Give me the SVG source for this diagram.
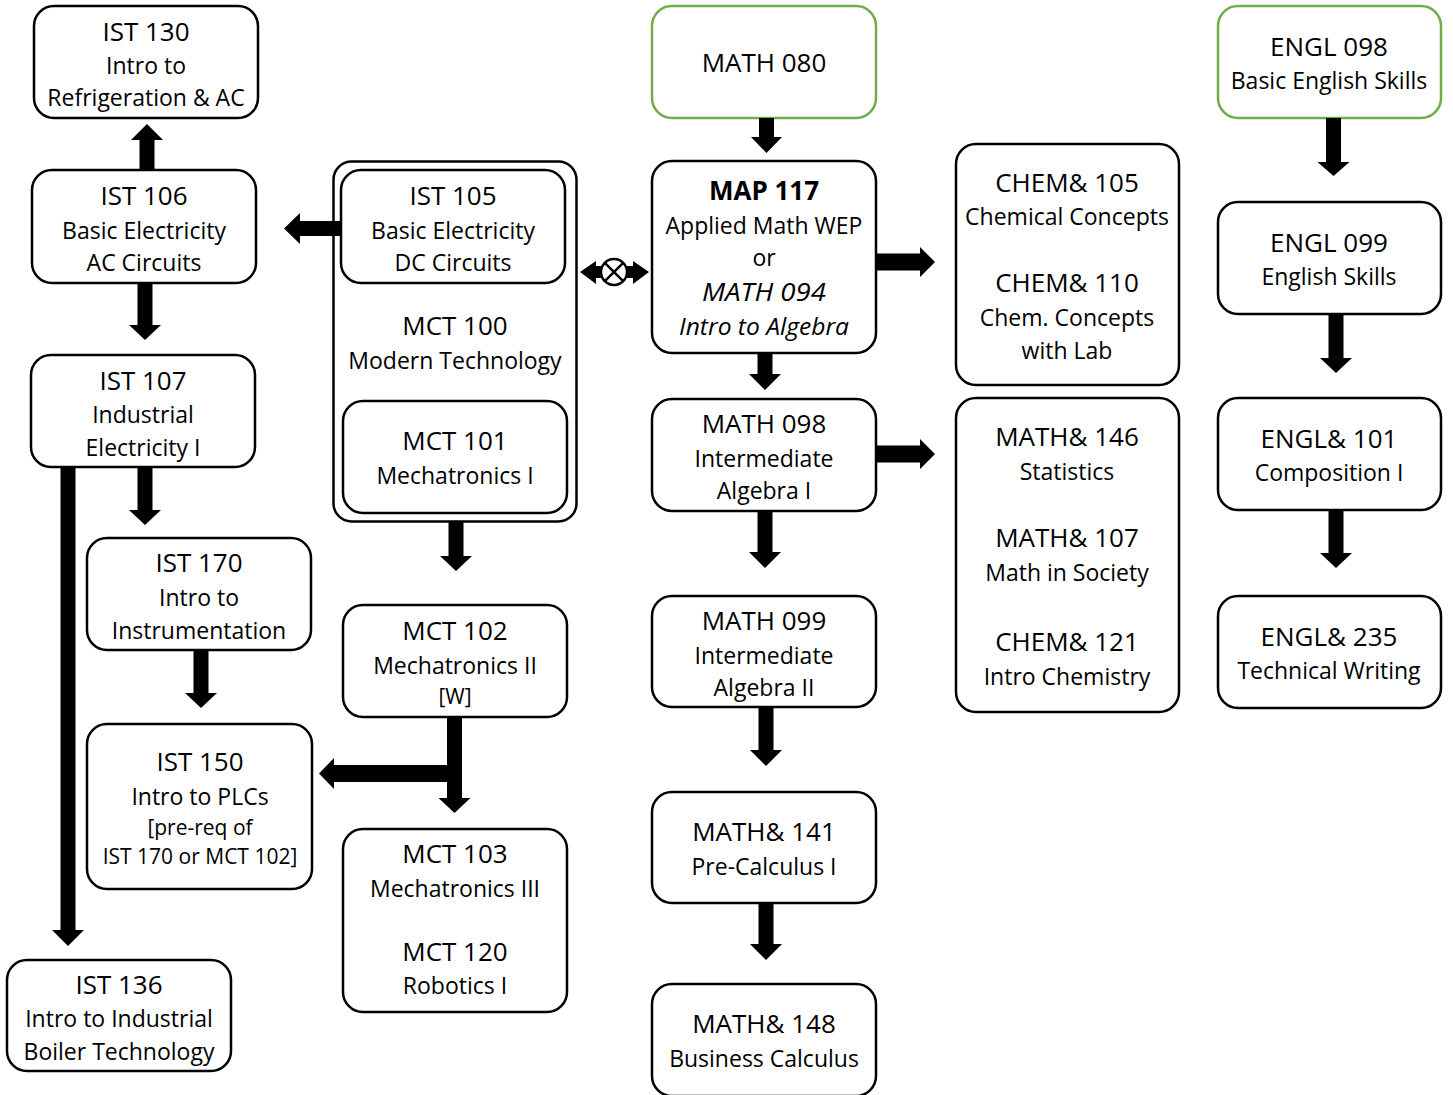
<svg xmlns="http://www.w3.org/2000/svg" width="1453" height="1095" viewBox="0 0 1453 1095">
<style>
.b{fill:#fff;stroke:#000;stroke-width:2.5}
.g{fill:#fff;stroke:#70AD47;stroke-width:2.5}
text{font-family:"Open Sans","Noto Sans",sans-serif;text-anchor:middle;dominant-baseline:central;fill:#000}
.t{font-size:26px}
.s{font-size:23px}
.x{font-size:21px}
.a{fill:#000}
</style>
<rect width="1453" height="1095" fill="#fff"/>
<g id="container"><rect class="b" x="333.5" y="161.5" width="243" height="360" rx="18"/>
<text class="t" x="455" y="325">MCT 100</text><text class="s" x="455" y="360">Modern Technology</text></g>
<g id="ist130"><rect class="b" x="34" y="6" width="224" height="112" rx="20"/>
<text class="t" x="146" y="31">IST 130</text><text class="s" x="146" y="65">Intro to</text><text class="s" x="146" y="97">Refrigeration &amp; AC</text></g>
<g id="ist106"><rect class="b" x="32" y="170" width="224" height="113" rx="20"/>
<text class="t" x="144" y="195">IST 106</text><text class="s" x="144" y="230">Basic Electricity</text><text class="s" x="144" y="262">AC Circuits</text></g>
<g id="ist107"><rect class="b" x="31" y="355" width="224" height="112" rx="20"/>
<text class="t" x="143" y="380">IST 107</text><text class="s" x="143" y="414">Industrial</text><text class="s" x="143" y="447">Electricity I</text></g>
<g id="ist170"><rect class="b" x="87" y="538" width="224" height="112" rx="20"/>
<text class="t" x="199" y="562">IST 170</text><text class="s" x="199" y="597">Intro to</text><text class="s" x="199" y="630">Instrumentation</text></g>
<g id="ist150"><rect class="b" x="87" y="724" width="225" height="165" rx="20"/>
<text class="t" x="200" y="761">IST 150</text><text class="s" x="200" y="796">Intro to PLCs</text><text class="x" x="200" y="827">[pre-req of</text><text class="x" x="200" y="856">IST 170 or MCT 102]</text></g>
<g id="ist136"><rect class="b" x="7" y="960" width="224" height="111" rx="20"/>
<text class="t" x="119" y="984">IST 136</text><text class="s" x="119" y="1018">Intro to Industrial</text><text class="s" x="119" y="1051">Boiler Technology</text></g>
<g id="ist105"><rect class="b" x="341" y="170" width="224" height="113" rx="20"/>
<text class="t" x="453" y="195">IST 105</text><text class="s" x="453" y="230">Basic Electricity</text><text class="s" x="453" y="262">DC Circuits</text></g>
<g id="mct101"><rect class="b" x="343" y="401" width="224" height="112" rx="20"/>
<text class="t" x="455" y="440">MCT 101</text><text class="s" x="455" y="475">Mechatronics I</text></g>
<g id="mct102"><rect class="b" x="343" y="605" width="224" height="112" rx="20"/>
<text class="t" x="455" y="630">MCT 102</text><text class="s" x="455" y="665">Mechatronics II</text><text class="x" x="455" y="696">[W]</text></g>
<g id="mct103"><rect class="b" x="343" y="829" width="224" height="183" rx="20"/>
<text class="t" x="455" y="853">MCT 103</text><text class="s" x="455" y="888">Mechatronics III</text><text class="t" x="455" y="951">MCT 120</text><text class="s" x="455" y="985">Robotics I</text></g>
<g id="math080"><rect class="g" x="652" y="6" width="224" height="112" rx="20"/>
<text class="t" x="764" y="62">MATH 080</text></g>
<g id="map117"><rect class="b" x="652" y="161" width="224" height="192" rx="20"/>
<text class="t" x="764" y="190" font-weight="bold">MAP 117</text><text class="s" x="764" y="225">Applied Math WEP</text><text class="s" x="764" y="257">or</text><text class="t" x="764" y="291" font-style="italic" textLength="124" lengthAdjust="spacingAndGlyphs">MATH 094</text><text class="s" x="764" y="326" font-style="italic" textLength="170" lengthAdjust="spacingAndGlyphs">Intro to Algebra</text></g>
<g id="math098"><rect class="b" x="652" y="399" width="224" height="112" rx="20"/>
<text class="t" x="764" y="423">MATH 098</text><text class="s" x="764" y="458">Intermediate</text><text class="s" x="764" y="490">Algebra I</text></g>
<g id="math099"><rect class="b" x="652" y="596" width="224" height="111" rx="20"/>
<text class="t" x="764" y="620">MATH 099</text><text class="s" x="764" y="655">Intermediate</text><text class="s" x="764" y="687">Algebra II</text></g>
<g id="math141"><rect class="b" x="652" y="792" width="224" height="111" rx="20"/>
<text class="t" x="764" y="831">MATH&amp; 141</text><text class="s" x="764" y="866">Pre-Calculus I</text></g>
<g id="math148"><rect class="b" x="652" y="984" width="224" height="112" rx="20"/>
<text class="t" x="764" y="1023">MATH&amp; 148</text><text class="s" x="764" y="1058">Business Calculus</text></g>
<g id="chem"><rect class="b" x="956" y="144" width="223" height="241" rx="20"/>
<text class="t" x="1067" y="182">CHEM&amp; 105</text><text class="s" x="1067" y="216">Chemical Concepts</text><text class="t" x="1067" y="282">CHEM&amp; 110</text><text class="s" x="1067" y="317">Chem. Concepts</text><text class="s" x="1067" y="350">with Lab</text></g>
<g id="math146"><rect class="b" x="956" y="398" width="223" height="314" rx="20"/>
<text class="t" x="1067" y="436">MATH&amp; 146</text><text class="s" x="1067" y="471">Statistics</text><text class="t" x="1067" y="537">MATH&amp; 107</text><text class="s" x="1067" y="572">Math in Society</text><text class="t" x="1067" y="641">CHEM&amp; 121</text><text class="s" x="1067" y="676">Intro Chemistry</text></g>
<g id="engl098"><rect class="g" x="1218" y="6" width="223" height="112" rx="20"/>
<text class="t" x="1329" y="46">ENGL 098</text><text class="s" x="1329" y="80">Basic English Skills</text></g>
<g id="engl099"><rect class="b" x="1218" y="202" width="223" height="112" rx="20"/>
<text class="t" x="1329" y="242">ENGL 099</text><text class="s" x="1329" y="276">English Skills</text></g>
<g id="engl101"><rect class="b" x="1218" y="398" width="223" height="112" rx="20"/>
<text class="t" x="1329" y="438">ENGL&amp; 101</text><text class="s" x="1329" y="472">Composition I</text></g>
<g id="engl235"><rect class="b" x="1218" y="596" width="223" height="112" rx="20"/>
<text class="t" x="1329" y="636">ENGL&amp; 235</text><text class="s" x="1329" y="670">Technical Writing</text></g>
<g id="connectors" class="a">
<polygon points="139.5,170 154.5,170 154.5,140 163,140 147,124 131,140 139.5,140"/>
<polygon points="341,221 300,221 300,213 284,228.5 300,244 300,236 341,236"/>
<polygon points="596,266 633,266 633,261 649,272 633,284 633,278 596,278 596,284 580,272 596,261"/>
<circle cx="614" cy="272" r="13" fill="#fff" stroke="#000" stroke-width="2.5"/>
<path d="M604.8,262.8 L623.2,281.2 M623.2,262.8 L604.8,281.2" stroke="#000" stroke-width="2.5"/>
<polygon points="759,118 774,118 774,137 782,137 766.5,153 751,137 759,137"/>
<polygon points="876,253.5 920,253.5 920,247 935,262 920,277 920,270.5 876,270.5"/>
<polygon points="757.5,353 772.5,353 772.5,374 781,374 765,390 749,374 757.5,374"/>
<polygon points="876,445.5 920,445.5 920,439 935,454 920,469 920,462.5 876,462.5"/>
<polygon points="757.5,511 772.5,511 772.5,552 781,552 765,568 749,552 757.5,552"/>
<polygon points="758.5,707 773.5,707 773.5,750 782,750 766,766 750,750 758.5,750"/>
<polygon points="758.5,903 773.5,903 773.5,944 782,944 766,960 750,944 758.5,944"/>
<polygon points="1326,118 1341,118 1341,162 1349.5,162 1333.5,176 1317.5,162 1326,162"/>
<polygon points="1328.5,314 1343.5,314 1343.5,358 1352,358 1336,373 1320,358 1328.5,358"/>
<polygon points="1328.5,510 1343.5,510 1343.5,553 1352,553 1336,568 1320,553 1328.5,553"/>
<polygon points="137.5,283 152.5,283 152.5,325 161,325 145,340 129,325 137.5,325"/>
<polygon points="137.5,467 152.5,467 152.5,510 161,510 145,525 129,510 137.5,510"/>
<polygon points="60.5,467 75.5,467 75.5,930 84,930 68,946 52,930 60.5,930"/>
<polygon points="193.5,650 208.5,650 208.5,693 217,693 201,708 185,693 193.5,693"/>
<polygon points="448.5,521 463.5,521 463.5,556 472,556 456,571 440,556 448.5,556"/>
<polygon points="447,717 462,717 462,798 470.5,798 454.5,813 438.5,798 447,798"/>
<polygon points="454,765 334,765 334,758 319,773.5 334,789 334,782 454,782"/>
</g>
</svg>
